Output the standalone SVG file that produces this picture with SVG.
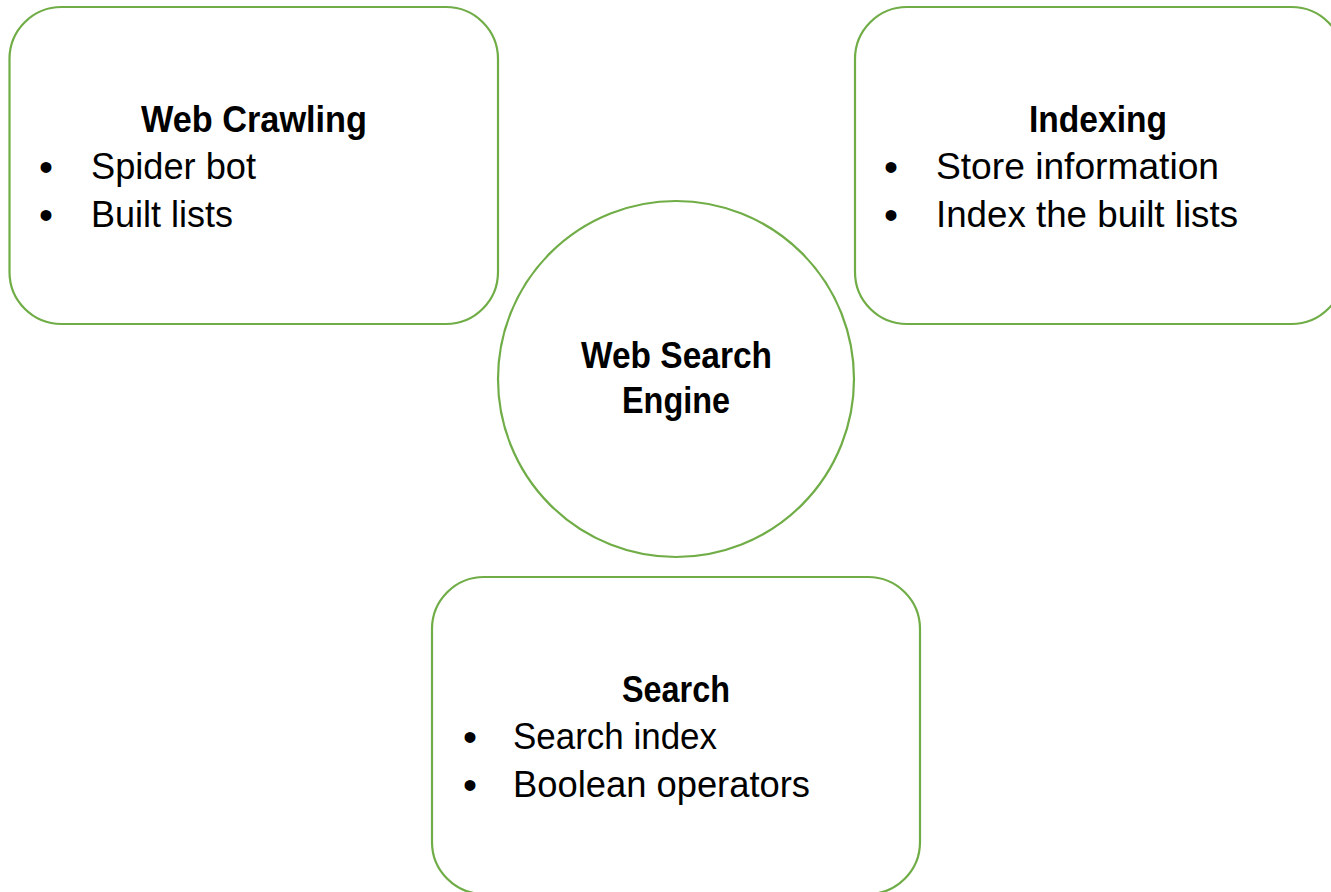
<svg xmlns="http://www.w3.org/2000/svg" width="1331" height="892" viewBox="0 0 1331 892">
<style>
.shape{fill:#ffffff;stroke:#70AD47;stroke-width:2.2}
.t{font-family:"Liberation Sans",Arial,sans-serif;font-size:37px;fill:#000000}
.b{font-weight:bold}
.bul{font-family:"Liberation Sans",Arial,sans-serif;font-size:40px;fill:#000000}
</style>
<rect width="1331" height="892" fill="#ffffff"/>
<g id="connectors"/>
<g id="web-crawling">
<rect class="shape" x="9.5" y="7" width="488.5" height="317" rx="52" ry="52"/>
<text class="t b" x="141" y="132" textLength="226" lengthAdjust="spacingAndGlyphs">Web Crawling</text>
<text class="bul" x="39" y="181">•</text>
<text class="t" x="91" y="179" textLength="165" lengthAdjust="spacingAndGlyphs">Spider bot</text>
<text class="bul" x="39" y="229">•</text>
<text class="t" x="91" y="227" textLength="142" lengthAdjust="spacingAndGlyphs">Built lists</text>
</g>
<g id="indexing">
<rect class="shape" x="855" y="7" width="488.5" height="317" rx="52" ry="52"/>
<text class="t b" x="1029" y="132" textLength="138" lengthAdjust="spacingAndGlyphs">Indexing</text>
<text class="bul" x="884" y="181">•</text>
<text class="t" x="936" y="179" textLength="283" lengthAdjust="spacingAndGlyphs">Store information</text>
<text class="bul" x="884" y="229">•</text>
<text class="t" x="936" y="227" textLength="302" lengthAdjust="spacingAndGlyphs">Index the built lists</text>
</g>
<g id="web-search-engine">
<circle class="shape" cx="676" cy="379" r="178"/>
<text class="t b" x="581" y="368" textLength="191" lengthAdjust="spacingAndGlyphs">Web Search</text>
<text class="t b" x="622" y="413" textLength="108" lengthAdjust="spacingAndGlyphs">Engine</text>
</g>
<g id="search">
<rect class="shape" x="432" y="577" width="488" height="317" rx="52" ry="52"/>
<text class="t b" x="622" y="702" textLength="108" lengthAdjust="spacingAndGlyphs">Search</text>
<text class="bul" x="463" y="751">•</text>
<text class="t" x="513" y="749" textLength="204" lengthAdjust="spacingAndGlyphs">Search index</text>
<text class="bul" x="463" y="799">•</text>
<text class="t" x="513" y="797" textLength="297" lengthAdjust="spacingAndGlyphs">Boolean operators</text>
</g>
</svg>
